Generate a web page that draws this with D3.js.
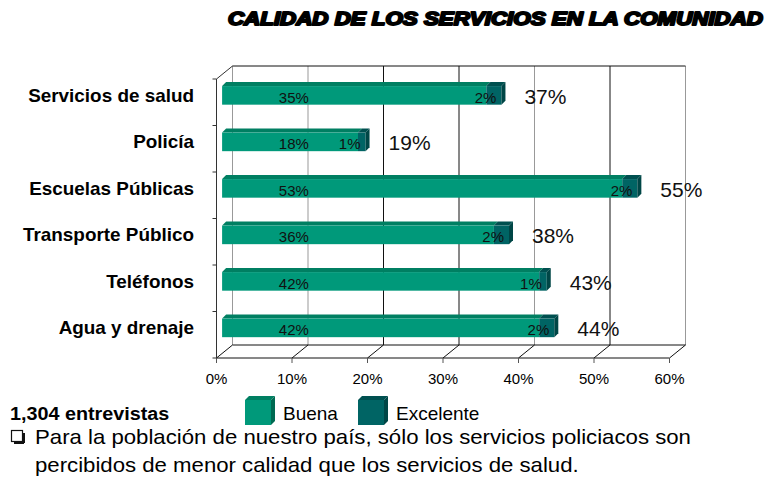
<!DOCTYPE html>
<html>
<head>
<meta charset="utf-8">
<script src="https://cdn.jsdelivr.net/npm/d3@7"></script>
<style>
body { margin: 0; background: white; }
text { font-family: "Liberation Sans", Arial, sans-serif; }
</style>
</head>
<body>
<div id="chart"></div>
<script>
const categories = ["Servicios de salud", "Policía", "Escuelas Públicas", "Transporte Público", "Teléfonos", "Agua y drenaje"];
const buena = [35, 18, 53, 36, 42, 42];
const excelente = [2, 1, 2, 2, 1, 2];
const totals = [37, 19, 55, 38, 43, 44];
const xTicks = [0, 10, 20, 30, 40, 50, 60];
const seriesNames = ["Buena", "Excelente"];

const W = 767, H = 483;
const depthX = 16, depthY = -13;   // wall depth
const barDX = 4, barDY = -4;       // bar thickness
const barShift = 0.35;             // bar position inside the depth

const colors = {
    Buena: { front: "#00997a", top: "#007f62", side: "#006a52" },
    Excelente: { front: "#006464", top: "#005050", side: "#004646" }
};

const svg = d3.select("#chart").append("svg")
    .attr("width", W).attr("height", H)
    .style("background-color", "white");

// text with a horizontal stretch, the original lettering is a bit wide
function addText(parent, px, py, str, size, sx) {
    return parent.append("text")
        .attr("transform", "translate(" + px + "," + py + ") scale(" + sx + ",1)")
        .style("font-size", size + "px")
        .text(str);
}

const x = d3.scaleLinear().domain([0, 60]).range([216.5, 669.5]);
const y = d3.scaleBand().domain(categories).range([79, 358]);
const bw = y.bandwidth();

// title
svg.append("text")
    .attr("x", 228).attr("y", 25)
    .attr("textLength", 535).attr("lengthAdjust", "spacingAndGlyphs")
    .style("font-size", "17.5px").style("font-weight", "bold").style("font-style", "italic")
    .style("stroke", "black").style("stroke-width", 1.9).style("stroke-linejoin", "round")
    .text("CALIDAD DE LOS SERVICIOS EN LA COMUNIDAD");

// back wall gridlines
const grid = svg.append("g");
xTicks.forEach(t => {
    grid.append("line")
        .attr("x1", x(t) + depthX).attr("x2", x(t) + depthX)
        .attr("y1", 79 + depthY).attr("y2", 358 + depthY)
        .style("stroke", (t == 20 || t == 30 || t == 50) ? "#111" : "#999")
        .style("stroke-width", 1);
});
grid.append("line")
    .attr("x1", x(0) + depthX).attr("x2", x(60) + depthX)
    .attr("y1", 79 + depthY).attr("y2", 79 + depthY)
    .style("stroke", "#111");

// floor
grid.append("line")
    .attr("x1", x(0) + depthX).attr("x2", x(60) + depthX)
    .attr("y1", 358 + depthY).attr("y2", 358 + depthY)
    .style("stroke", "#111");
grid.append("line")
    .attr("x1", x(0)).attr("x2", x(60))
    .attr("y1", 358).attr("y2", 358)
    .style("stroke", "#111");
xTicks.forEach(t => {
    grid.append("line")
        .attr("x1", x(t)).attr("x2", x(t) + depthX)
        .attr("y1", 358).attr("y2", 358 + depthY)
        .style("stroke", "#111");
    grid.append("line")
        .attr("x1", x(t)).attr("x2", x(t))
        .attr("y1", 358).attr("y2", 363)
        .style("stroke", "#555");
    svg.append("text")
        .attr("x", x(t)).attr("y", 384)
        .attr("text-anchor", "middle")
        .style("font-size", "15px")
        .text(t + "%");
});

// left wall
grid.append("line")
    .attr("x1", x(0)).attr("x2", x(0))
    .attr("y1", 79).attr("y2", 358)
    .style("stroke", "#333");
grid.append("line")
    .attr("x1", x(0)).attr("x2", x(0) + depthX)
    .attr("y1", 79).attr("y2", 79 + depthY)
    .style("stroke", "#333");
categories.concat([null]).forEach(c => {
    const yy = c == null ? 358 : y(c);
    grid.append("line")
        .attr("x1", x(0) - 4).attr("x2", x(0))
        .attr("y1", yy).attr("y2", yy)
        .style("stroke", "#333");
});

const shiftX = depthX * barShift, shiftY = depthY * barShift;

// category labels
categories.forEach(c => {
    addText(svg, 194, y(c) + bw * 0.45 + shiftY + 6.5, c, 18, 1.05)
        .attr("text-anchor", "end")
        .style("font-weight", "bold");
});

// 3D bars
function bar3d(g, x0, x1, yTop, h, col, withSide) {
    g.append("path")
        .attr("d", `M${x0},${yTop} L${x0 + barDX},${yTop + barDY} L${x1 + barDX},${yTop + barDY} L${x1},${yTop} Z`)
        .style("fill", col.top);
    g.append("rect")
        .attr("x", x0).attr("y", yTop)
        .attr("width", x1 - x0).attr("height", h)
        .style("fill", col.front);
    if (withSide) {
        g.append("path")
            .attr("d", `M${x1},${yTop} L${x1 + barDX},${yTop + barDY} L${x1 + barDX},${yTop + barDY + h} L${x1},${yTop + h} Z`)
            .style("fill", col.side);
    }
}

const bars = svg.append("g");
categories.forEach((c, i) => {
    const yTop = y(c) + bw * 0.25 + shiftY;
    const h = bw * 0.4;
    const xa = x(0) + shiftX, xb = x(buena[i]) + shiftX, xc = x(buena[i] + excelente[i]) + shiftX;
    bar3d(bars, xa, xb, yTop, h, colors.Buena, false);
    bar3d(bars, xb, xc, yTop, h, colors.Excelente, true);

    bars.append("text")
        .attr("x", x(9.5) + shiftX).attr("y", yTop + h - 2)
        .attr("text-anchor", "middle")
        .style("font-size", "15px").style("fill", "#111")
        .text(buena[i] + "%");
    bars.append("text")
        .attr("x", xc - 5).attr("y", yTop + h - 2)
        .attr("text-anchor", "end")
        .style("font-size", "15px").style("fill", "#111")
        .text(excelente[i] + "%");
    bars.append("text")
        .attr("x", x(totals[i]) + shiftX + 23).attr("y", yTop + h - 1)
        .style("font-size", "21px").style("fill", "#111")
        .text(totals[i] + "%");
});

// legend
addText(svg, 10, 420, "1,304 entrevistas", 17.5, 1.13)
    .style("font-weight", "bold");
const legendX = [245, 358];
seriesNames.forEach((s, i) => {
    const g = svg.append("g");
    bar3d(g, legendX[i], legendX[i] + 26, 400, 25, colors[s], true);
    g.append("text")
        .attr("x", legendX[i] + 38).attr("y", 420)
        .style("font-size", "19px")
        .text(s);
});

// note
svg.append("rect")
    .attr("x", 11.5).attr("y", 430.5).attr("width", 11).attr("height", 11)
    .style("fill", "white").style("stroke", "#111").style("stroke-width", 1.2);
svg.append("line")
    .attr("x1", 14).attr("x2", 24).attr("y1", 443).attr("y2", 443)
    .style("stroke", "#111").style("stroke-width", 2);
svg.append("line")
    .attr("x1", 24).attr("x2", 24).attr("y1", 433).attr("y2", 443)
    .style("stroke", "#111").style("stroke-width", 2);
addText(svg, 35, 444, "Para la población de nuestro país, sólo los servicios policiacos son", 20, 1.11);
addText(svg, 35, 472, "percibidos de menor calidad que los servicios de salud.", 20, 1.11);
</script>
</body>
</html>
